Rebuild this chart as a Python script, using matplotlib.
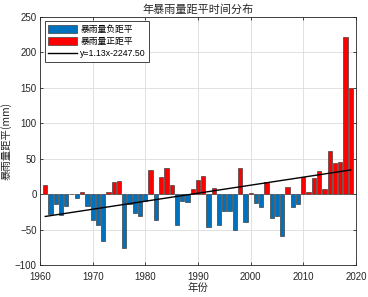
import matplotlib
matplotlib.use("Agg")
import matplotlib.pyplot as plt
import numpy as np
from matplotlib.patches import Patch
from matplotlib.lines import Line2D

plt.rcParams['font.family'] = ['Liberation Sans', 'Noto Sans CJK SC', 'DejaVu Sans']

years = list(range(1961, 2020))
anomaly = [12.6, -28, -14, -29.5, -16.4, 0, -6, 2.5, -17.4, -36.5,
           -43.5, -65.6, 3.2, 17.5, 18.8, -75.9, -14, -26.7, -30.5, -9.4,
           34.1, -36, 23.4, 36.5, 13, -43.6, -10.4, -11.8, 7, 19.7,
           25.7, -46, 8.4, -43, -23.5, -23.5, -50.6, 36.5, -39.8, 1.8,
           -13, -18.8, 16.9, -34, -31, -58.6, 9.3, -18.8, -14, 24.3,
           2.3, 22.5, 32.7, 7, 60, 44, 45.4, 222, 150]
slope, intercept = 1.13, -2247.50
labels = ['暴雨量负距平', '暴雨量正距平', 'y=1.13x-2247.50']
xticks = [1960, 1970, 1980, 1990, 2000, 2010, 2020]
yticks = [-100, -50, 0, 50, 100, 150, 200, 250]

blue = '#0072BD'
red = '#FF0000'
cjk = ['Noto Sans CJK SC', 'Liberation Sans']

fig = plt.figure(figsize=(3.68, 2.97), dpi=100)
ax = fig.add_axes([0.1087, 0.1077, 0.8587, 0.8363])

yrs = np.array(years)
vals = np.array(anomaly)
colors = [red if v > 0 else blue for v in vals]
ax.bar(yrs, vals, width=0.8, color=colors, edgecolor='#404040', linewidth=0.5, zorder=3)
ax.plot([yrs[0], yrs[-1]], [slope * yrs[0] + intercept, slope * yrs[-1] + intercept],
        color='black', lw=1.0, zorder=4)

ax.set_xlim(1960, 2020)
ax.set_ylim(-100, 250)
ax.set_xticks(xticks)
ax.set_yticks(yticks)
ax.grid(True, color='#DCDCDC', lw=0.6, zorder=0)
ax.set_axisbelow(True)
ax.tick_params(direction='in', length=2.5, width=0.6, labelsize=7, colors='#262626',
               top=True, right=True, pad=2.5)
ax.tick_params(axis='x', pad=5)
for s in ax.spines.values():
    s.set_color('#262626')
    s.set_linewidth(0.6)

ax.set_title('年暴雨量距平时间分布', fontsize=8, color='#262626', pad=3, family=cjk)
ax.set_xlabel('年份', fontsize=7.5, color='#262626', labelpad=1, family=cjk)
ax.set_ylabel('暴雨量距平(mm)', fontsize=7.5, color='#262626', labelpad=2, family=cjk)

handles = [Patch(facecolor=blue, edgecolor='#404040', lw=0.5),
           Patch(facecolor=red, edgecolor='#404040', lw=0.5),
           Line2D([0], [0], color='black', lw=1.0)]
leg = ax.legend(handles, labels, loc='upper left', frameon=True,
                fancybox=False, edgecolor='#262626', framealpha=1,
                handlelength=3.3, handleheight=1.0, handletextpad=0.35,
                borderpad=0.4, labelspacing=0.35, borderaxespad=0.55,
                prop={'family': ['Liberation Sans', 'Noto Sans CJK SC'], 'size': 6.3})
leg.get_frame().set_linewidth(0.6)

fig.savefig('out.png', dpi=100)
